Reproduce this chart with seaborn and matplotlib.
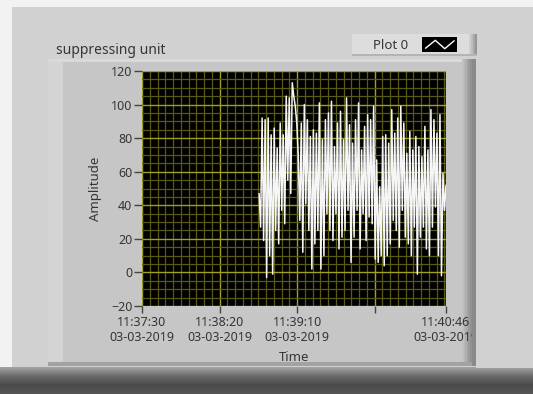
import numpy as np
import matplotlib
matplotlib.use("Agg")
import matplotlib.pyplot as plt
import seaborn as sns
from matplotlib.patches import Rectangle
from matplotlib.ticker import MultipleLocator, FixedLocator

# chart data (seconds after 11:37:30)
t_start = 75.5          # first sample ~ 11:38:45
t_end = 196.0           # last sample  11:40:46
amplitude = [47, 27, 92, 19, 91, -3, 92, 10, 82, -1, 86, 25, 74, 17, 89, 37,
             82, 29, 105, 55, 104, 47, 113, 105, 99, 89, 69, 31, 89, 12, 100, 41,
             91, 25, 81, 2, 85, 17, 83, 25, 101, 2, 79, 10, 91, 35, 95, 25,
             102, 19, 75, 35, 89, 14, 96, 21, 79, 25, 104, 37, 88, 6, 77, 21,
             91, 37, 101, 14, 73, 35, 87, 19, 94, 33, 91, 29, 99, 8, 67, 6,
             51, 10, 81, 4, 82, 10, 77, 17, 97, 31, 83, 25, 92, 15, 99, 37,
             89, 21, 71, 17, 84, 10, 73, 27, 81, -1, 75, 21, 69, 27, 87, 14,
             73, 10, 97, 27, 91, 39, 83, 10, 94, -2, 59, 37, 52]

x_ticks = [0, 50, 100, 150, 196]
x_labels = ["11:37:30\n03-03-2019", "11:38:20\n03-03-2019", "11:39:10\n03-03-2019",
            "", "11:40:46\n03-03-2019"]
y_ticks = [-20, 0, 20, 40, 60, 80, 100, 120]

W, H = 533, 394


def px_rect(fig, x0, y0, x1, y1, color, z):
    # rectangle given in pixel coords of the screenshot (y down)
    r = Rectangle((x0 / W, 1 - y1 / H), (x1 - x0) / W, (y1 - y0) / H,
                  transform=fig.transFigure, facecolor=color, edgecolor="none",
                  zorder=z)
    fig.patches.append(r)


def px_axes(fig, x0, y0, x1, y1):
    return fig.add_axes([x0 / W, 1 - y1 / H, (x1 - x0) / W, (y1 - y0) / H])


sns.set_style("dark")
plt.rcParams["font.family"] = ["Noto Sans", "DejaVu Sans"]
txt = "#353535"

fig = plt.figure(figsize=(W / 100, H / 100), dpi=100, facecolor="#f2f2f2")

# panel / frame decoration
px_rect(fig, 12, 7, 533, 368, "#d1d1d1", -10)
px_rect(fig, 48, 59, 476, 366, "#c6c6c6", -9)
px_rect(fig, 48, 59, 63, 366, "#d4d4d4", -8)
px_rect(fig, 48, 59, 476, 62, "#d9d9d9", -8)
for i, c in enumerate(["#c0c0c0", "#b8b8b8", "#afafaf", "#a5a5a5", "#9b9b9b",
                       "#919191", "#888888"]):
    px_rect(fig, 462 + i * 1.6, 59, 464 + i * 1.6, 366, c, -7)
px_rect(fig, 48, 362, 476, 366, "#a2a2a2", -7)
# covers the clipped end of the last date label
px_rect(fig, 472, 59, 476, 366, "#8a8a8a", 6)
px_rect(fig, 476, 59, 533, 368, "#d1d1d1", 6)

# bottom dark bar
bar = px_axes(fig, 0, 367, 533, 394)
grad = np.linspace(0, 1, 64).reshape(-1, 1)
bar.imshow(grad, aspect="auto", cmap=matplotlib.colors.LinearSegmentedColormap.from_list(
    "g", ["#a4a4a4", "#6a6a6a", "#4a4a4a", "#555555"]), extent=[0, 1, 0, 1])
bar.set_axis_off()
bar.set_zorder(-5)

# title
fig.text(56 / W, 1 - 54 / H, "suppressing unit", fontsize=10, color=txt,
         ha="left", va="baseline")

# legend box
px_rect(fig, 352, 34, 477, 56, "#dddddd", 1)
for i, c in enumerate(["#cfcfcf", "#bdbdbd", "#a8a8a8", "#959595"]):
    px_rect(fig, 469 + i * 2, 34, 471 + i * 2, 56, c, 1)
px_rect(fig, 352, 54, 477, 56, "#b4b4b4", 1)
fig.text(373 / W, 1 - 45.5 / H, "Plot 0", fontsize=9.5, color=txt,
         ha="left", va="center")
sw = px_axes(fig, 422, 37, 457, 52)
sw.set_zorder(3)
sw.set_facecolor("black")
sw.plot([0.1, 0.38, 0.65, 0.92], [0.25, 0.78, 0.22, 0.75], color="white", lw=1)
sw.set_xlim(0, 1)
sw.set_ylim(0, 1)
sw.set_xticks([])
sw.set_yticks([])
for s in sw.spines.values():
    s.set_visible(False)

# main chart
ax = px_axes(fig, 142, 71, 446, 306)
ax.set_facecolor("black")
t = np.linspace(t_start, t_end, len(amplitude))
sns.lineplot(x=t, y=amplitude, ax=ax, color="#f6f6f6", linewidth=1.1,
             errorbar=None, sort=False)

ax.set_xlim(0, 196)
ax.set_ylim(-20, 120)
ax.set_xticks(x_ticks)
ax.set_xticklabels(x_labels)
ax.set_yticks(y_ticks)
ax.xaxis.set_minor_locator(FixedLocator(list(range(0, 196, 5))))
ax.yaxis.set_minor_locator(MultipleLocator(5))
ax.grid(which="minor", color="#5a5a14", lw=0.9)
ax.grid(which="major", color="#a0a022", lw=1.0)
ax.set_axisbelow(True)
for s in ax.spines.values():
    s.set_visible(False)
ax.tick_params(axis="both", which="major", labelsize=9, colors=txt,
               direction="out", width=1, color="#444444")
ax.tick_params(axis="y", which="major", length=6, pad=1, left=True)
ax.tick_params(axis="x", which="major", length=5, pad=2, bottom=True)
ax.tick_params(which="minor", length=0)

ax.set_xlabel("Time", fontsize=9.5, color=txt)
ax.set_ylabel("Amplitude", fontsize=9.5, color=txt)
ax.xaxis.set_label_coords(0.5, -0.19)
ax.yaxis.set_label_coords(-0.13, 0.5)

fig.savefig("out.png", dpi=100, facecolor=fig.get_facecolor())
